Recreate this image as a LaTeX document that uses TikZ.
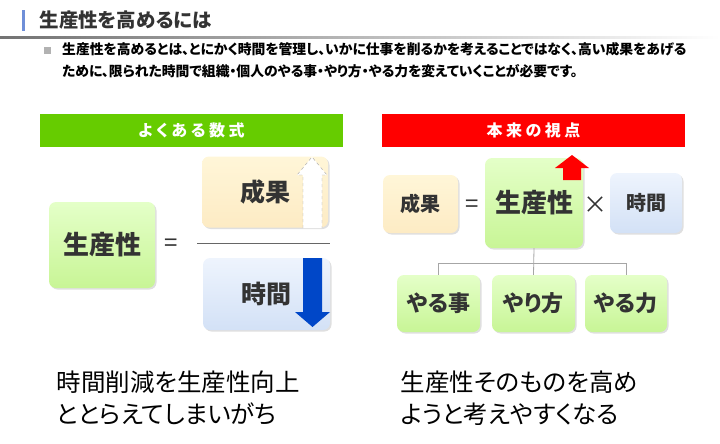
\documentclass[tikz,border=0pt]{standalone}
\usepackage{fontspec}
\setmainfont{Noto Sans CJK JP}[RawFeature=+palt]
\usetikzlibrary{shadows,calc}

\definecolor{txt}{HTML}{333333}
\definecolor{hdrgreen}{HTML}{66CC00}
\definecolor{hdrred}{HTML}{FF0000}
\definecolor{grnA}{HTML}{E4FFC8}
\definecolor{grnB}{HTML}{C8F596}
\definecolor{ylwA}{HTML}{FFF6D8}
\definecolor{ylwB}{HTML}{FDEBC4}
\definecolor{bluA}{HTML}{EEF4FD}
\definecolor{bluB}{HTML}{D3E1F6}
\definecolor{arrblue}{HTML}{0047C8}
\definecolor{barblue}{HTML}{6F8FD8}

\tikzset{
  box/.style={rounded corners=7pt, inner sep=0pt, text=txt,
    font=\bfseries\fontsize{22}{24}\selectfont,
    drop shadow={shadow xshift=1.5pt, shadow yshift=-1.5pt, opacity=0.25}},
  grnbox/.style={box, top color=grnA, bottom color=grnB},
  ylwbox/.style={box, top color=ylwA, bottom color=ylwB},
  blubox/.style={box, top color=bluA, bottom color=bluB},
  hdrbar/.style={inner sep=0pt, text=white,
    font=\bfseries\fontsize{16}{17}\selectfont\addfontfeatures{LetterSpace=22}},
  op/.style={text=txt, font=\fontsize{24}{24}\selectfont},
  tree/.style={draw=gray!70, line width=0.8pt},
  note/.style={anchor=west, align=left, text=black,
    font=\fontsize{24.5}{32}\selectfont}
}

\begin{document}
\begin{tikzpicture}[x=1pt,y=-1pt]
\useasboundingbox (0,0) rectangle (720,444);

% title
\fill[barblue] (22,10) rectangle (25,31);
\node[anchor=west, text=txt, font=\bfseries\fontsize{19.5}{20}\selectfont] (title) at (36,20) {生産性を高めるには};
\shade[left color=gray!90!black, right color=white] (0,36.5) rectangle (720,38.5);

% lead text
\fill[gray!60] (44,47) rectangle (51,54);
\node[anchor=north west, align=left, inner sep=0pt, text=black,
  font=\bfseries\fontsize{13.8}{22}\selectfont] (lead) at (62,42)
  {生産性を高めるとは、とにかく時間を管理し、いかに仕事を削るかを考えることではなく、高い成果をあげる\\
   ために、限られた時間で組織・個人のやる事・やり方・やる力を変えていくことが必要です。};

% left: common formula
\node[hdrbar, fill=hdrgreen, minimum width=303pt, minimum height=33pt] (hdrL) at (191.5,130.5) {よくある数式};
\node[grnbox, minimum width=106pt, minimum height=86pt, font=\bfseries\fontsize{26}{28}\selectfont] (prodL) at (102,245) {生産性};
\node[op] (eqL) at (171,245) {=};
\node[ylwbox, minimum width=126pt, minimum height=71pt, font=\bfseries\fontsize{25}{28}\selectfont] (outL) at (265,192) {成果};
\node[blubox, minimum width=127pt, minimum height=72pt, font=\bfseries\fontsize{25}{28}\selectfont] (timeL) at (266.5,294) {時間};
\draw[gray!80!black, line width=0.8pt] (197,243) -- (330,243);
\draw[gray!70, dashed, fill=white] (303,228) -- (303,175) -- (297,175) -- (312,157)
  -- (327,175) -- (322,175) -- (322,228);
\fill[arrblue] (303,258) -- (322,258) -- (322,312) -- (330,312) -- (312.5,327)
  -- (295,312) -- (303,312) -- cycle;

% right: the real view
\node[hdrbar, fill=hdrred, minimum width=303pt, minimum height=33pt] (hdrR) at (533.5,130.5) {本来の視点};
\node[ylwbox, minimum width=75pt, minimum height=58pt, font=\bfseries\fontsize{20}{22}\selectfont] (outR) at (420.5,204) {成果};
\node[op] (eqR) at (472,206) {=};
\node[grnbox, minimum width=98pt, minimum height=90pt, font=\bfseries\fontsize{26}{28}\selectfont] (prodR) at (534,203) {生産性};
\node[op] (mulR) at (595,205) {×};
\node[blubox, minimum width=72pt, minimum height=60pt, font=\bfseries\fontsize{20}{22}\selectfont] (timeR) at (646,203) {時間};
\fill[hdrred] (563,180) -- (563,168) -- (555,168) -- (572,155) -- (589,168)
  -- (581,168) -- (581,180) -- cycle;

\node[grnbox, minimum width=83pt, minimum height=57pt] (task) at (438.5,303.5) {やる事};
\node[grnbox, minimum width=83pt, minimum height=57pt] (way) at (533.5,303.5) {やり方};
\node[grnbox, minimum width=82pt, minimum height=57pt] (power) at (626,303.5) {やる力};
\coordinate (jn) at ($(prodR.south)+(0,15)$);
\draw[tree] (prodR.south) -- (way.north);
\draw[tree] (task.north) |- (jn) -| (power.north);

% conclusions
\node[note] (noteL) at (53,398) {時間削減を生産性向上\\ととらえてしまいがち};
\node[note] (noteR) at (397,398) {生産性そのものを高め\\ようと考えやすくなる};
\end{tikzpicture}
\end{document}
